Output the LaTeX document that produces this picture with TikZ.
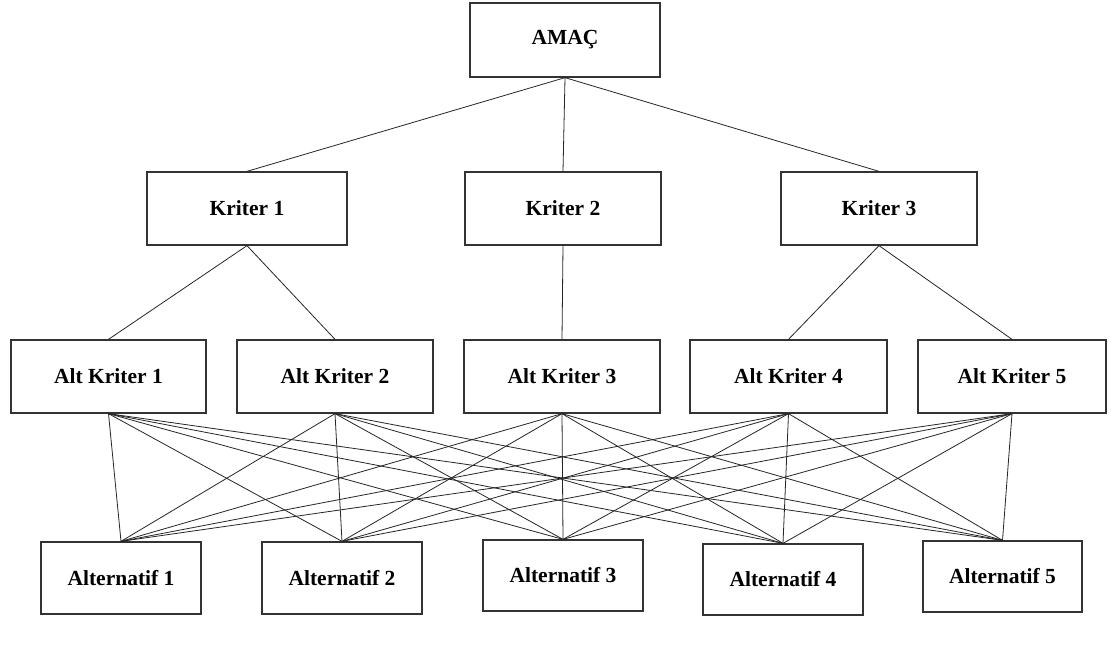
\documentclass[tikz,border=0pt]{standalone}
\usepackage{fontspec}
\setmainfont{Liberation Serif}
\begin{document}
\begin{tikzpicture}[x=1pt,y=-1pt,
  box/.style={draw=black!80,line width=1.3pt,fill=white,inner sep=0pt,
    minimum height=73pt,font=\fontsize{21.5}{25}\selectfont\bfseries},
  link/.style={draw=black!85,line width=0.8pt}]
\useasboundingbox[fill=white] (0,0) rectangle (1111,668);
% top
\node[box,minimum width=190pt,minimum height=74pt] (amac) at (565,40) {AMAÇ};
% criteria
\node[box,minimum width=200pt] (k1) at (247,208.5) {Kriter 1};
\node[box,minimum width=196pt] (k2) at (563,208.5) {Kriter 2};
\node[box,minimum width=196pt] (k3) at (879,208.5) {Kriter 3};
% sub-criteria
\node[box,minimum width=195pt] (ak1) at (108.5,376.5) {Alt Kriter 1};
\node[box,minimum width=196pt] (ak2) at (335,376.5) {Alt Kriter 2};
\node[box,minimum width=196pt] (ak3) at (562,376.5) {Alt Kriter 3};
\node[box,minimum width=197pt] (ak4) at (788.5,376.5) {Alt Kriter 4};
\node[box,minimum width=188pt] (ak5) at (1012,376.5) {Alt Kriter 5};
% alternatives
\node[box,minimum width=160pt,minimum height=72pt] (al1) at (121,578) {Alternatif 1};
\node[box,minimum width=160pt,minimum height=72pt] (al2) at (342,578) {Alternatif 2};
\node[box,minimum width=160pt,minimum height=71pt] (al3) at (563,575.5) {Alternatif 3};
\node[box,minimum width=160pt,minimum height=71pt] (al4) at (783,579.5) {Alternatif 4};
\node[box,minimum width=159pt,minimum height=71pt] (al5) at (1002.5,576.5) {Alternatif 5};
% connectors
\foreach \k in {k1,k2,k3} \draw[link] (amac.south) -- (\k.north);
\draw[link] (k1.south) -- (ak1.north);
\draw[link] (k1.south) -- (ak2.north);
\draw[link] (k2.south) -- (ak3.north);
\draw[link] (k3.south) -- (ak4.north);
\draw[link] (k3.south) -- (ak5.north);
\foreach \a in {ak1,ak2,ak3,ak4,ak5}
  \foreach \b in {al1,al2,al3,al4,al5}
    \draw[link] (\a.south) -- (\b.north);
\end{tikzpicture}
\end{document}
